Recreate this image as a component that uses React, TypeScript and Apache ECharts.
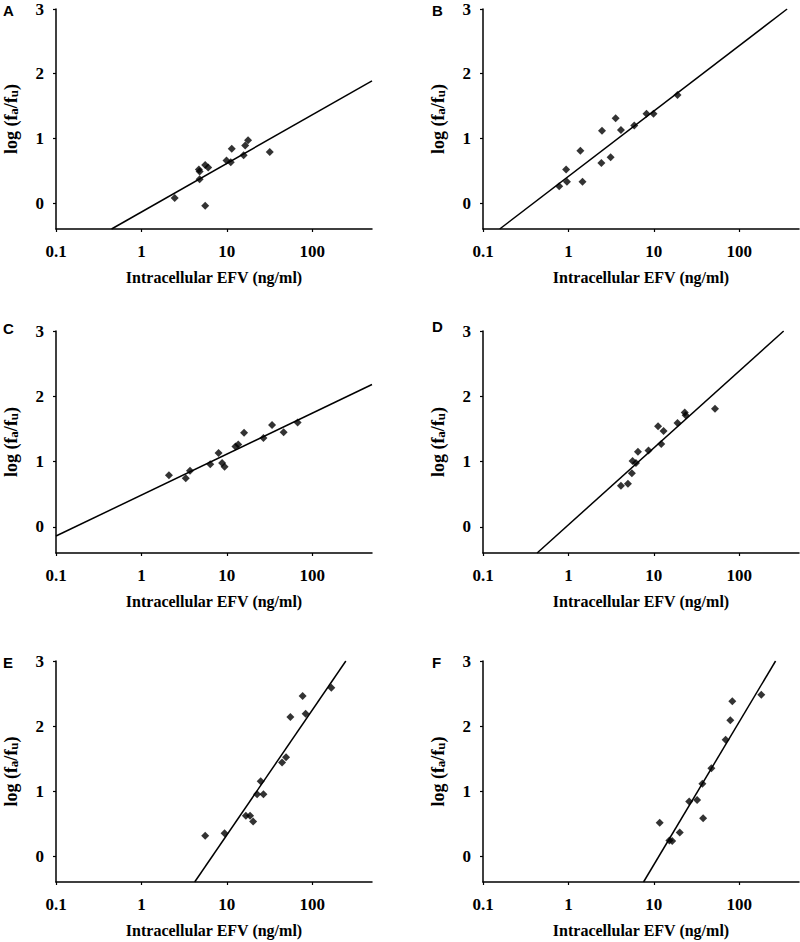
import React, { useEffect, useRef } from "react";
import * as echarts from "echarts";

// Panel A
const xA = [2.45, 4.7, 4.8, 4.8, 5.58, 6.05, 5.58, 9.9, 11.1, 11.4, 15.7, 16.4, 17.7, 31.8];
const yA = [0.08, 0.52, 0.49, 0.37, 0.59, 0.55, -0.04, 0.66, 0.63, 0.84, 0.74, 0.89, 0.97, 0.79];
const fitXA = [0.447, 500];
const fitYA = [-0.4, 1.89];
// Panel B
const xB = [0.78, 0.94, 0.96, 1.38, 1.46, 2.43, 2.47, 3.12, 3.57, 4.12, 5.89, 8.2, 9.9, 18.9];
const yB = [0.26, 0.52, 0.33, 0.81, 0.33, 0.62, 1.12, 0.71, 1.31, 1.13, 1.2, 1.38, 1.38, 1.67];
const fitXB = [0.157, 363];
const fitYB = [-0.4, 3];
// Panel C
const xC = [2.1, 3.3, 3.7, 6.39, 8.0, 8.8, 9.4, 12.6, 13.6, 15.9, 26.8, 33.8, 46.2, 67.4];
const yC = [0.79, 0.745, 0.86, 0.96, 1.13, 0.98, 0.92, 1.23, 1.26, 1.44, 1.36, 1.56, 1.45, 1.6];
const fitXC = [0.1, 500];
const fitYC = [-0.14, 2.18];
// Panel D
const xD = [4.12, 4.97, 5.53, 5.63, 6.17, 6.51, 8.66, 11.2, 12.2, 13.0, 18.9, 23.0, 23.6, 52.0];
const yD = [0.63, 0.66, 0.82, 1.01, 0.98, 1.15, 1.17, 1.54, 1.27, 1.47, 1.59, 1.75, 1.71, 1.81];
const fitXD = [0.43, 331];
const fitYD = [-0.4, 3];
// Panel E
const xE = [5.58, 9.4, 16.7, 18.7, 20.3, 22.6, 24.9, 26.8, 44.3, 49.3, 55.4, 77.1, 83.6, 167];
const yE = [0.31, 0.35, 0.62, 0.62, 0.53, 0.95, 1.15, 0.95, 1.44, 1.52, 2.14, 2.46, 2.19, 2.59];
const fitXE = [4.2, 247];
const fitYE = [-0.4, 3];
// Panel F
const xF = [11.7, 15.2, 16.4, 20.1, 25.9, 32.1, 37.0, 37.7, 47.1, 69.2, 78.5, 82.8, 181];
const yF = [0.51, 0.24, 0.23, 0.36, 0.84, 0.86, 1.11, 0.58, 1.35, 1.79, 2.09, 2.38, 2.48];
const fitXF = [7.57, 266];
const fitYF = [-0.4, 3];

const panelLetters = ["A", "B", "C", "D", "E", "F"];
const xTickValues = [0.1, 1, 10, 100];
const yTickValues = [0, 1, 2, 3];
const xAxisName = "Intracellular EFV (ng/ml)";

const panels = [
  { xs: xA, ys: yA, fx: fitXA, fy: fitYA },
  { xs: xB, ys: yB, fx: fitXB, fy: fitYB },
  { xs: xC, ys: yC, fx: fitXC, fy: fitYC },
  { xs: xD, ys: yD, fx: fitXD, fy: fitYD },
  { xs: xE, ys: yE, fx: fitXE, fy: fitYE },
  { xs: xF, ys: yF, fx: fitXF, fy: fitYF },
];

const SERIF = "Liberation Serif, Times New Roman, serif";
const SANS = "Liberation Sans, Arial, sans-serif";

const gridRects = [
  { left: 56, top: 9, width: 316, height: 220 },
  { left: 483, top: 9, width: 316, height: 220 },
  { left: 56, top: 331, width: 316, height: 222 },
  { left: 483, top: 331, width: 316, height: 222 },
  { left: 56, top: 661, width: 316, height: 221 },
  { left: 483, top: 661, width: 316, height: 221 },
];
const letterPos = [
  [3, 10.5],
  [432, 10.5],
  [3, 328.5],
  [432, 327],
  [3, 662.5],
  [432, 662.5],
];

export default function App() {
  const ref = useRef<HTMLDivElement>(null);
  useEffect(() => {
    if (!ref.current) return;
    const chart = echarts.init(ref.current, undefined, { renderer: "svg" });
    const axisLineStyle = { color: "#000", width: 1.5 };
    const option: any = {
      animation: false,
      backgroundColor: "#fff",
      grid: gridRects.map((g) => ({ ...g, outerBoundsMode: "none", containLabel: false })),
      xAxis: gridRects.map((_, i) => ({
        type: "log",
        logBase: 10,
        gridIndex: i,
        min: 0.1,
        max: 500,
        name: xAxisName,
        nameLocation: "middle",
        nameGap: 40,
        nameTextStyle: { fontFamily: SERIF, fontWeight: "bold", fontSize: 16, color: "#000" },
        axisLine: { show: true, onZero: false, lineStyle: axisLineStyle },
        axisTick: { show: true, length: 3, inside: false, lineStyle: { color: "#000", width: 1.2 }, customValues: xTickValues },
        axisLabel: {
          customValues: xTickValues,
          fontFamily: SERIF,
          fontWeight: "bold",
          fontSize: 17,
          color: "#000",
          margin: 14,
          formatter: (v: number) => String(v),
        },
        splitLine: { show: false },
        minorTick: { show: false },
      })),
      yAxis: gridRects.map((_, i) => ({
        type: "value",
        gridIndex: i,
        min: -0.4,
        max: 3,
        name: "{m|log (f}{s|a}{m|/f}{s|u}{m|)}",
        nameLocation: "middle",
        nameGap: 36,
        nameTextStyle: {
          color: "#000",
          rich: {
            m: { fontFamily: SERIF, fontWeight: "bold", fontSize: 18, color: "#000", lineHeight: 18 },
            s: { fontFamily: SERIF, fontWeight: "bold", fontSize: 13, color: "#000", verticalAlign: "bottom", lineHeight: 13 },
          },
        },
        axisLine: { show: true, onZero: false, lineStyle: axisLineStyle },
        axisTick: { show: true, length: 3, lineStyle: { color: "#000", width: 1.2 }, customValues: yTickValues },
        axisLabel: {
          customValues: yTickValues,
          fontFamily: SERIF,
          fontWeight: "bold",
          fontSize: 17,
          lineHeight: 14,
          color: "#000",
          margin: 12,
        },
        splitLine: { show: false },
      })),
      series: panels.flatMap((p, i) => [
        {
          type: "scatter",
          xAxisIndex: i,
          yAxisIndex: i,
          symbol: "diamond",
          symbolSize: 8,
          itemStyle: { color: "#000" },
          data: p.xs.map((x, k) => [x, p.ys[k]]),
          z: 3,
        },
        {
          type: "line",
          xAxisIndex: i,
          yAxisIndex: i,
          showSymbol: false,
          symbol: "none",
          lineStyle: { color: "#000", width: 1.5 },
          data: p.fx.map((x, k) => [x, p.fy[k]]),
          z: 2,
        },
      ]),
      graphic: panelLetters.map((t, i) => ({
        type: "text",
        left: letterPos[i][0],
        top: letterPos[i][1] - 8,
        style: { text: t, fontFamily: SANS, fontWeight: "bold", fontSize: 15, fill: "#000" },
      })),
    };
    chart.setOption(option);
    return () => chart.dispose();
  }, []);
  return (
    <div
      ref={ref}
      style={{ position: "absolute", left: 0, top: 0, width: 800, height: 942, background: "#fff" }}
    />
  );
}
